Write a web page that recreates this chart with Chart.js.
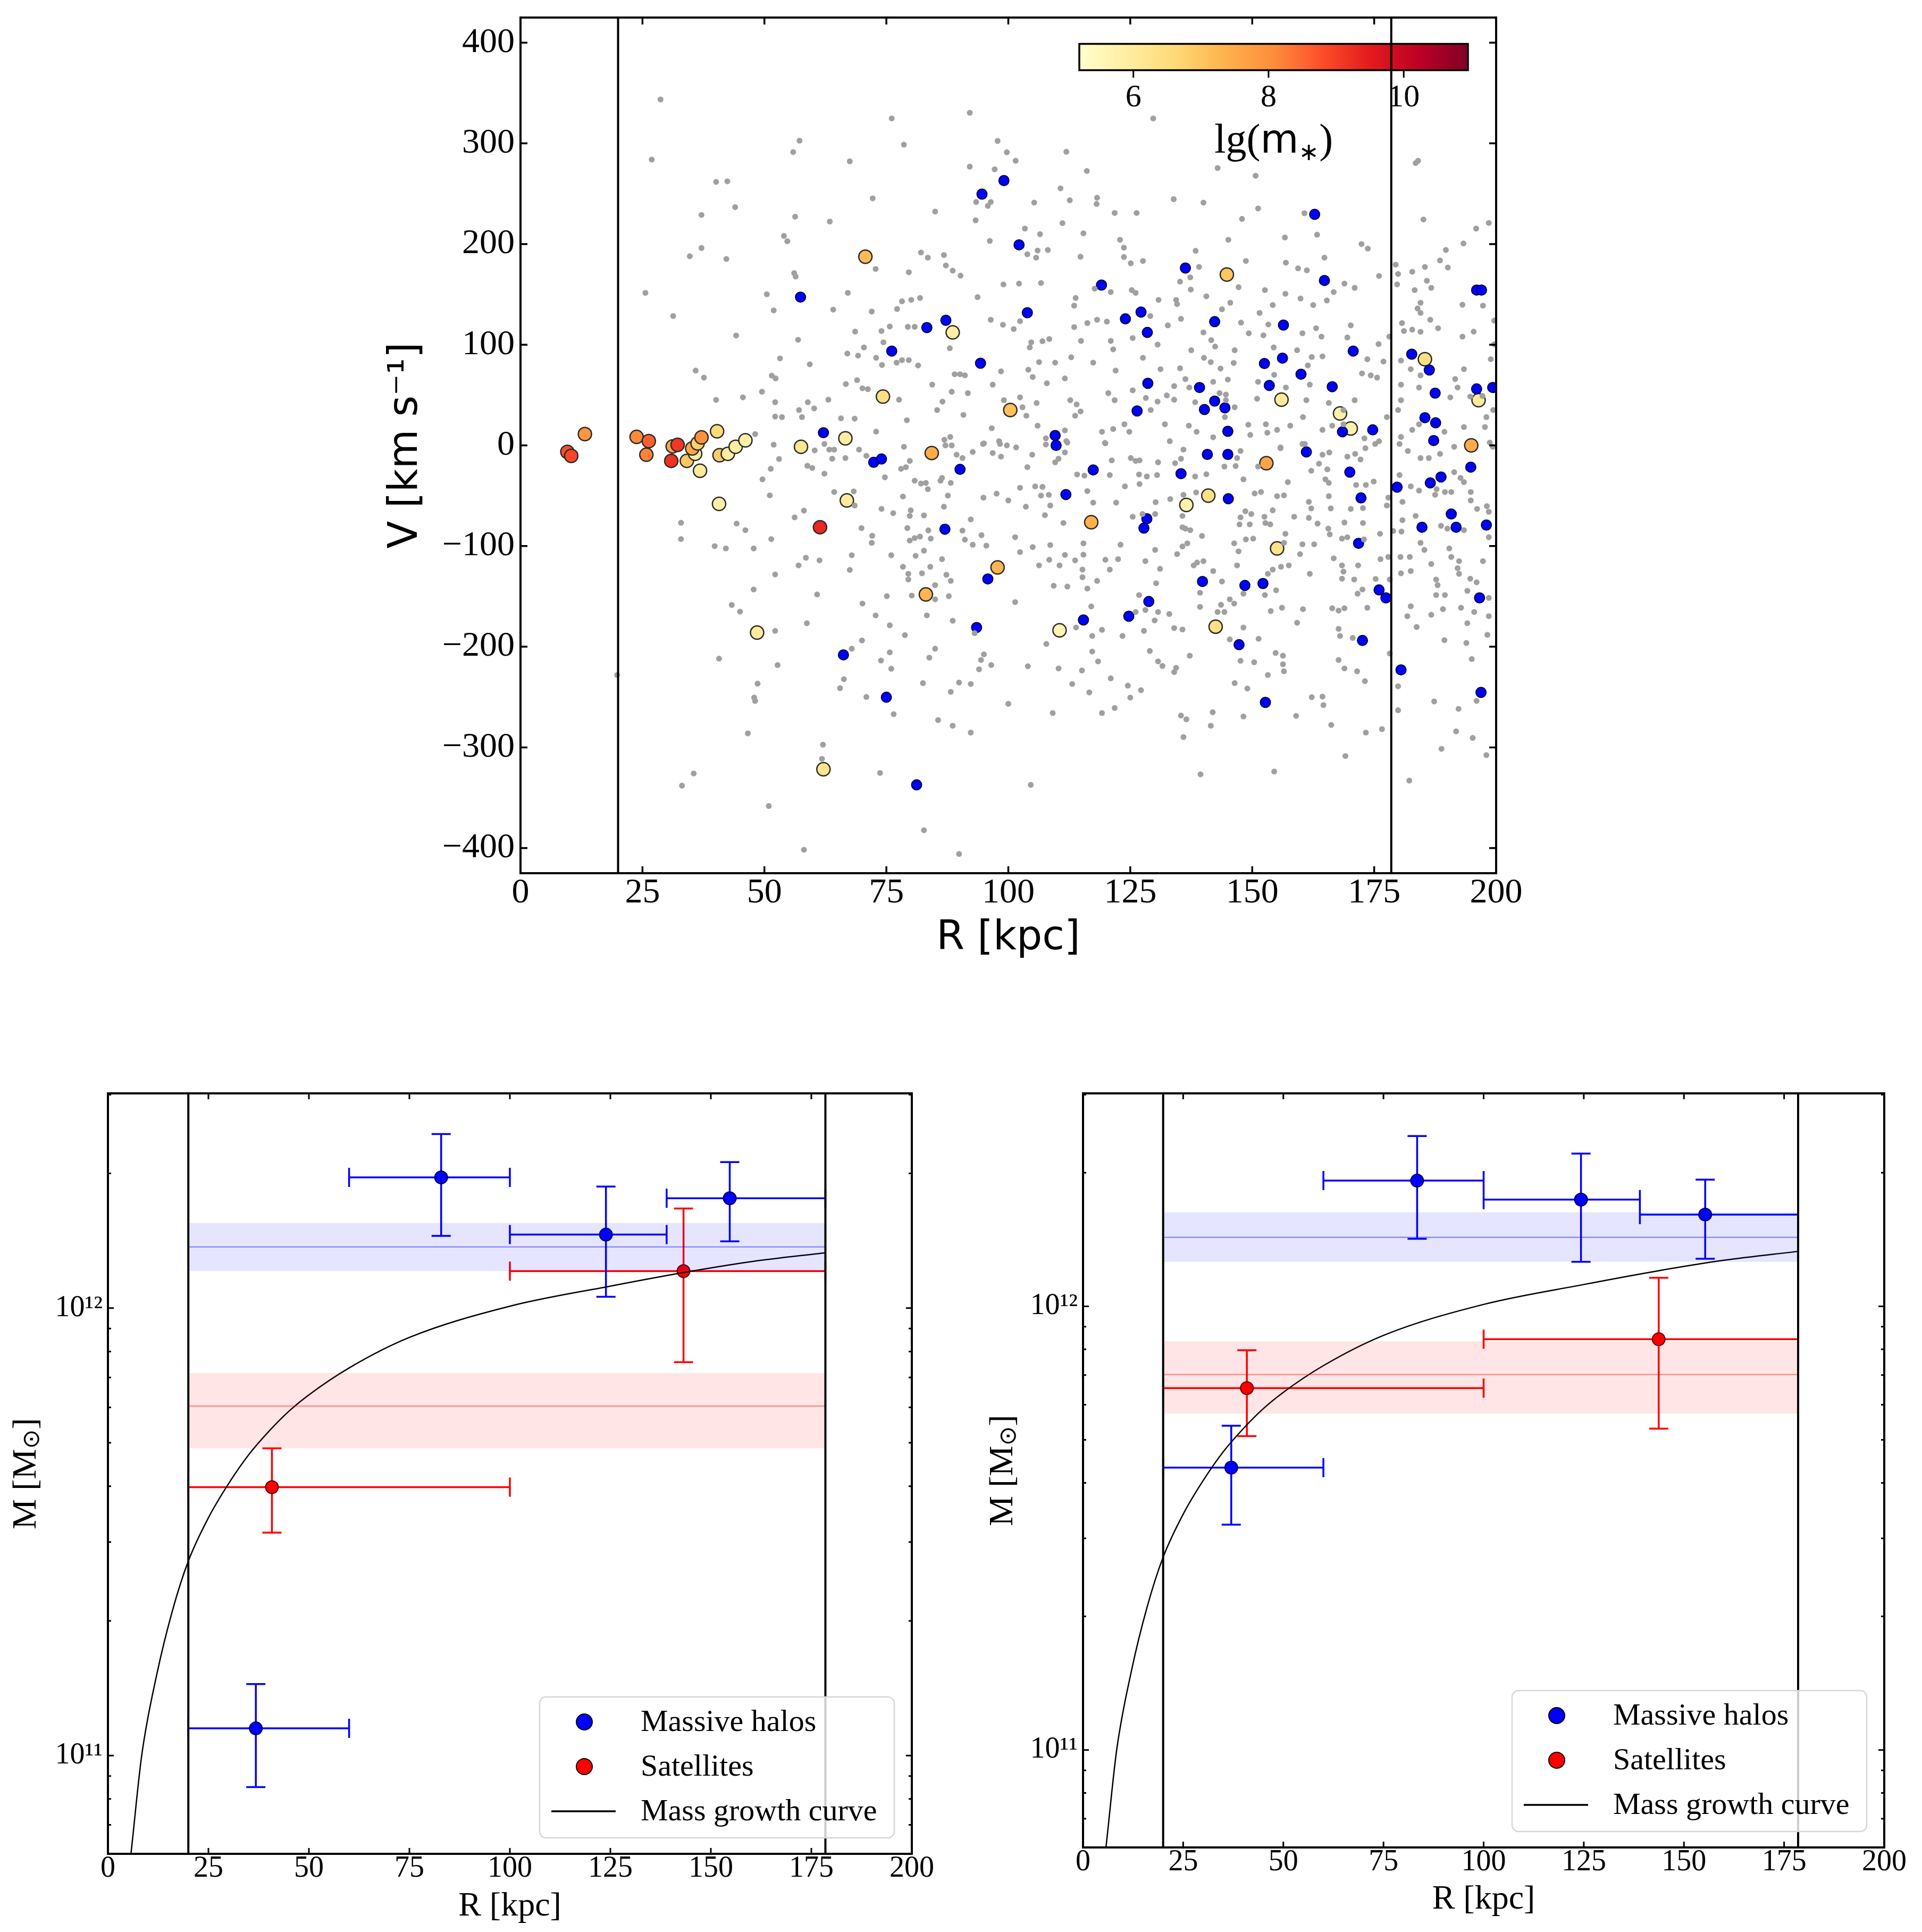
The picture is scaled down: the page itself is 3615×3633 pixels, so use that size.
<!DOCTYPE html>
<html><head><meta charset="utf-8">
<script src="https://cdn.jsdelivr.net/npm/chart.js@4.4.0/dist/chart.umd.min.js"></script>
<style>
html,body{margin:0;padding:0;background:#fff;width:3615px;height:3633px;overflow:hidden;position:relative}
canvas{position:absolute}
</style></head><body>
<canvas id="topc" width="3615" height="1850" style="left:0;top:0"></canvas>
<canvas id="blc" width="1800" height="1733" style="left:0;top:1900px"></canvas>
<canvas id="brc" width="1815" height="1733" style="left:1800px;top:1900px"></canvas>
<script>
// ---------------- DATA ----------------
const rTicks = [0,25,50,75,100,125,150,175,200];
const vTicks = [-400,-300,-200,-100,0,100,200,300,400];
const massTicks = [1e11,1e12];
const minorMantissas = [2,3,4,5,6,7,8,9];
const cbarTicks = [6,8,10];
const cbarRange = [5.2,10.95];
const rLimits = [20,178.5];

// gray field halos [R, V]
const fieldHalos = [
[28.7,343.6],[26.9,283.9],[57.2,302.7],[55.9,291.4],[76.1,324.8],[78.6,298.7],[67.5,282.2],[92.1,330.4],[97.8,302.4],[99.7,291.2],
[92.1,276.9],[97.2,274.3],[40.1,261.7],[42.4,262.3],[72.2,245.4],[44.0,236.7],[37.1,228.9],[56.3,227.2],[63.4,222.4],[85.0,232.3],
[93.3,223.6],[93.4,241.8],[96.4,241.8],[95.8,237.9],[54.0,208.1],[54.7,202.8],[37.1,196.1],[34.7,187.9],[42.2,185.1],[96.2,203.1],
[82.1,191.6],[83.5,186.5],[86.8,189.1],[72.8,175.3],[79.6,172.0],[87.2,178.7],[88.6,173.6],[90.2,168.6],[56.1,171.1],[56.4,167.7],
[99.0,159.9],[25.6,151.5],[50.5,150.1],[67.1,151.5],[93.7,147.3],[81.9,146.4],[80.1,144.5],[78.2,143.1],[77.2,135.5],[51.9,134.1],
[64.1,134.9],[72.0,133.0],[31.3,128.5],[96.4,124.8],[98.9,119.8],[68.6,113.0],[74.0,113.6],[75.7,118.1],[79.4,117.8],[80.8,117.8],
[44.2,109.1],[56.9,104.9],[74.4,102.4],[70.4,97.3],[88.0,96.5],[67.0,91.2],[69.2,89.2],[72.9,87.0],[53.2,86.4],[59.3,80.5],
[74.1,79.9],[77.1,82.2],[78.2,84.7],[79.6,84.7],[81.5,79.4],[35.9,74.3],[37.6,67.3],[89.0,70.7],[90.1,70.7],[91.1,69.6],
[98.5,73.5],[51.5,69.3],[52.3,66.5],[66.7,60.9],[69.0,64.8],[70.1,56.7],[71.2,55.8],[84.4,60.3],[96.8,60.3],[88.4,53.3],
[91.7,51.9],[40.1,45.2],[45.6,47.7],[49.5,53.3],[52.2,42.9],[58.9,42.9],[60.2,36.7],[63.1,45.4],[77.6,45.4],[57.1,35.1],
[57.7,28.1],[52.2,28.6],[53.6,28.1],[65.7,26.9],[68.5,26.6],[79.2,25.0],[86.5,43.5],[85.4,35.1],[90.8,30.3],[96.6,17.1],
[72.9,13.7],[88.1,8.4],[86.9,5.6],[98.1,4.2],[95.0,2.0],[48.1,11.2],[51.9,0.6],[78.6,-1.4],
[129.7,324.8],[101.5,282.7],[111.9,291.7],[116.1,272.6],[142.9,275.5],[150.7,267.9],[184.0,282.7],[183.5,280.5],[110.7,255.3],[105.3,241.2],
[112.6,243.5],[118.2,246.0],[118.1,239.8],[133.9,244.6],[140.0,241.2],[121.8,230.9],[126.3,230.9],[151.2,235.3],[147.9,225.0],[160.7,230.6],
[111.1,220.8],[103.4,215.4],[106.5,209.8],[115.4,210.7],[185.1,224.4],[195.9,215.4],[198.5,221.0],[156.7,206.5],[163.3,209.3],[145.1,204.2],
[122.9,204.2],[123.7,196.4],[172.4,200.0],[173.7,195.5],[193.3,200.6],[189.7,194.1],[103.9,189.9],[106.0,193.5],[108.1,194.1],[105.7,186.5],
[114.8,187.4],[123.7,187.1],[125.1,180.9],[127.6,183.2],[138.4,193.3],[164.8,186.5],[148.7,183.2],[156.9,181.5],[159.4,175.9],[161.2,173.9],
[188.5,183.7],[190.1,176.7],[185.4,177.3],[179.4,179.5],[179.9,170.3],[182.8,172.5],[139.1,177.3],[176.0,168.3],[102.2,160.7],[106.7,161.3],
[135.2,162.7],[137.3,166.9],[179.7,159.9],[168.9,160.7],[171.0,156.5],[185.8,163.5],[183.3,154.3],[186.7,156.5],[137.4,154.8],[117.7,155.7],
[121.0,152.3],[125.3,154.3],[126.1,151.5],[147.2,157.1],[152.6,154.3],[156.8,150.6],[166.7,152.3],[140.6,148.1],[159.9,145.9],[165.3,143.9],
[113.8,146.4],[113.5,138.8],[130.8,144.5],[134.4,144.5],[134.6,140.3],[145.5,141.7],[154.2,139.4],[162.5,139.4],[193.1,139.7],[197.3,138.8],
[184.5,141.7],[183.9,136.0],[143.8,135.2],[151.5,131.6],[184.5,131.6],[102.4,123.4],[101.1,115.6],[116.2,121.5],[118.2,124.8],[120.2,122.9],
[129.1,128.5],[135.4,125.7],[132.7,119.2],[113.5,117.5],[147.7,122.0],[153.3,120.1],[163.1,116.4],[170.2,119.2],[180.7,121.5],[186.5,124.8],
[188.1,116.4],[199.6,124.0],[181.1,113.6],[182.8,115.0],[184.5,112.8],[195.4,113.0],[193.1,108.0],[140.0,112.2],[149.3,111.4],[152.3,109.4],
[160.3,111.4],[164.2,108.0],[169.5,107.2],[178.1,108.0],[108.4,105.7],[104.7,102.4],[107.0,103.5],[114.9,103.8],[121.0,103.8],[125.5,106.6],
[141.6,104.6],[104.4,97.3],[121.5,95.4],[130.6,100.1],[137.5,94.5],[142.4,98.2],[146.4,94.5],[154.4,97.3],[159.2,94.5],[175.9,100.7],
[180.5,84.2],[199.6,100.4],[173.6,85.6],[176.9,83.3],[164.4,88.4],[162.2,87.8],[112.9,87.5],[127.6,87.0],[140.1,87.0],[106.3,82.7],
[109.6,82.2],[117.4,82.2],[141.5,82.7],[146.2,81.9],[104.1,75.2],[122.0,74.3],[131.2,75.7],[135.2,76.6],[143.5,76.3],[161.4,79.4],
[182.5,75.7],[193.4,75.7],[198.9,85.6],[105.0,67.9],[111.6,66.5],[107.9,61.7],[136.3,65.9],[145.0,65.4],[151.2,63.1],[154.5,70.1],
[172.5,71.5],[174.3,69.6],[175.6,67.3],[184.5,69.6],[191.6,65.9],[192.1,57.5],[194.7,48.5],[180.5,60.3],[125.5,54.7],[134.0,58.9],
[137.1,57.5],[142.0,63.1],[143.3,51.9],[144.6,50.5],[156.9,57.5],[161.8,60.3],[184.2,57.5],[190.6,47.7],[197.2,49.1],[99.1,44.9],
[102.4,47.7],[102.9,37.9],[103.7,29.5],[105.8,42.1],[112.7,44.9],[114.0,40.7],[113.7,29.5],[114.8,33.7],[120.5,51.9],[121.8,44.9],
[128.2,47.1],[132.5,49.6],[130.6,43.5],[134.0,45.4],[129.2,35.1],[138.3,42.9],[144.6,44.9],[146.4,37.9],[151.0,46.3],[165.7,42.1],
[168.7,35.1],[171.0,44.9],[160.4,28.1],[161.1,44.9],[177.6,28.1],[180.5,44.9],[179.9,35.1],[199.4,35.1],[198.0,28.1],[106.0,19.6],
[107.7,7.0],[111.9,4.2],[111.6,14.9],[119.8,2.5],[119.2,13.5],[121.5,16.3],[123.8,21.0],[124.8,13.5],[132.1,21.0],[133.1,4.2],
[137.0,19.6],[138.6,13.5],[142.0,8.1],[144.4,28.1],[149.2,20.5],[149.6,10.4],[152.8,21.0],[153.1,12.6],[155.1,15.4],[157.8,19.6],
[164.4,15.4],[166.4,19.6],[168.7,21.0],[173.0,7.0],[176.0,4.2],[180.5,8.4],[182.8,15.4],[184.2,21.0],[189.4,13.5],[193.4,18.2],
[197.7,18.2],[198.7,2.8],[99.7,0],[160.8,1.4],[155.8,-2.8],
[60.3,-5.0],[62.3,1.4],[63.3,-4.2],[64.3,-4.2],[63.9,-13.2],[66.6,-12.6],[69.4,-4.2],[70.9,-10.4],[53.0,-13.5],[51.3,-23.3],
[49.6,-33.7],[58.8,-20.2],[59.8,-22.4],[62.3,-28.1],[74.7,-31.7],[78.0,-23.3],[79.0,-21.6],[79.8,-15.4],[87.1,0],[88.4,0],
[89.4,-9.3],[90.6,-12.6],[92.7,-6.5],[94.8,1.4],[96.8,-7.6],[98.3,1.4],[98.5,-11.2],[80.8,-35.1],[82.1,-37.9],[83.1,-37.3],
[83.5,-43.5],[86.1,-35.1],[86.4,-32.3],[88.2,-37.3],[51.1,-49.6],[64.3,-46.3],[68.3,-45.7],[68.5,-59.7],[78.4,-50.8],[87.6,-49.9],
[94.9,-51.9],[97.6,-48.0],[100.0,-54.7],[32.9,-76.9],[32.9,-93.1],[44.3,-77.7],[46.1,-84.2],[56.2,-71.5],[58.1,-64.8],[74.0,-63.1],
[76.4,-67.3],[80.0,-64.5],[79.8,-70.1],[82.7,-69.6],[86.8,-60.9],[92.3,-73.5],[69.9,-82.2],[72.1,-89.8],[72.0,-96.8],[79.3,-82.2],
[79.8,-94.5],[80.8,-92.0],[81.9,-90.6],[83.6,-84.4],[84.1,-92.6],[90.6,-84.7],[91.1,-93.7],[92.7,-98.7],[94.5,-89.2],[95.5,-99.6],
[51.4,-93.1],[39.8,-100.1],[42.1,-102.4],[47.8,-102.4],[58.5,-111.6],[57.0,-119.2],[61.3,-114.2],[52.2,-128.2],[67.9,-109.1],[67.5,-123.7],
[76.0,-109.1],[78.4,-120.6],[79.5,-127.6],[79.5,-133.2],[81.0,-109.7],[82.7,-104.6],[82.3,-127.1],[84.0,-120.6],[86.4,-113.0],[87.3,-128.5],
[88.2,-134.6],[85.0,-138.8],[47.8,-143.1],[60.8,-148.1],[75.1,-149.8],[80.2,-149.2],[85.0,-152.9],[87.8,-149.8],[43.3,-158.5],[45.0,-165.2],
[70.1,-157.1],[72.8,-168.9],[83.3,-168.9],[88.6,-174.2],[58.7,-176.7],[75.7,-178.7],[78.8,-188.5],[52.2,-184.3],[93.1,-186.5],[70.0,-193.8],
[67.9,-202.0],[85.0,-202.0],[83.8,-210.9],[75.7,-205.6],[73.9,-213.7],[76.0,-221.9],[95.0,-207.6],[94.4,-213.2],[94.0,-222.4],[96.5,-218.2],
[40.7,-211.8],[52.7,-218.2],[19.8,-228.1],[66.3,-232.3],[65.5,-241.2],[48.6,-236.7],[47.9,-250.5],[48.1,-253.9],[70.9,-249.9],[76.5,-267.0],
[82.5,-236.2],[89.9,-235.6],[92.3,-237.0],[88.2,-244.9],[100.0,-256.7],[85.6,-272.9],[88.6,-278.5],[92.3,-285.3],[46.6,-286.1],[62.0,-297.3],
[61.8,-311.4],[73.7,-325.4],[35.5,-325.9],[33.1,-338.0],[50.9,-358.2],[82.7,-382.3],[58.1,-401.7],[89.9,-405.9],
[101.6,-2.0],[107.7,0.8],[112.1,2.8],[119.9,2.0],[104.9,-9.3],[109.6,-16.8],[110.3,-13.2],[111.6,-7.0],[103.9,-21.6],[121.2,-14.9],
[125.1,-12.6],[126.1,-15.4],[126.9,-14.9],[130.7,-16.8],[134.2,-17.7],[135.9,-4.2],[135.4,-13.2],[147.6,-5.6],[146.9,-12.6],[144.3,-21.0],
[146.6,-20.5],[151.2,-21.0],[155.8,-2.0],[164.4,-9.3],[165.8,-7.0],[160.3,1.4],[169.5,-11.2],[171.1,-8.4],[172.2,-14.0],[173.2,-2.8],
[175.2,1.4],[163.7,-18.2],[165.4,-23.8],[162.1,-25.2],[114.1,-28.9],[115.6,-30.0],[120.8,-29.5],[126.8,-28.9],[128.4,-30.9],[130.5,-29.5],
[138.3,-30.9],[140.6,-28.6],[148.2,-33.7],[157.3,-36.5],[165.0,-33.7],[165.7,-37.3],[171.3,-39.3],[173.3,-39.3],[174.9,-35.9],[102.4,-42.1],
[105.5,-40.7],[107.0,-41.2],[106.7,-49.9],[108.3,-49.1],[116.2,-45.4],[123.9,-40.7],[126.9,-38.4],[138.5,-46.8],[135.9,-49.1],[150.5,-47.7],
[151.8,-46.3],[155.1,-50.5],[156.5,-49.6],[165.7,-50.5],[103.6,-60.9],[108.6,-59.7],[117.4,-56.9],[122.1,-56.9],[130.2,-56.4],[133.2,-53.3],
[161.6,-56.1],[162.1,-62.6],[166.1,-62.6],[170.2,-63.1],[172.7,-62.3],[177.9,-51.9],[177.6,-59.7],[107.5,-69.3],[111.3,-77.1],[125.5,-70.9],
[127.5,-68.2],[130.1,-68.2],[135.7,-70.1],[135.7,-81.3],[136.3,-82.7],[137.3,-84.2],[147.6,-71.5],[148.6,-65.4],[149.8,-68.2],[149.5,-78.5],
[147.4,-78.5],[152.7,-77.1],[153.7,-78.5],[152.5,-70.9],[154.2,-64.5],[158.6,-70.9],[161.6,-72.0],[163.4,-77.7],[168.9,-76.6],[172.7,-77.1],
[165.6,-82.7],[165.9,-88.4],[168.4,-92.6],[169.5,-91.2],[172.9,-93.4],[176.2,-87.8],[101.4,-91.2],[105.0,-101.0],[108.6,-99.0],[115.4,-97.3],
[123.0,-98.7],[130.1,-103.8],[134.6,-108.0],[135.7,-100.4],[136.7,-97.3],[139.7,-90.0],[146.3,-97.3],[147.2,-105.2],[148.7,-93.4],[150.2,-92.6],
[156.8,-87.8],[156.5,-96.8],[160.3,-98.2],[162.7,-98.2],[159.8,-108.0],[102.4,-106.0],[106.3,-119.2],[108.4,-113.6],[110.5,-119.2],[111.6,-108.8],
[113.7,-114.2],[115.4,-108.6],[115.2,-123.4],[119.9,-113.6],[122.5,-113.0],[120.8,-123.4],[128.1,-115.0],[131.1,-122.6],[138.0,-119.2],[138.7,-116.4],
[140.0,-115.0],[142.0,-124.8],[146.9,-119.2],[153.2,-127.6],[154.2,-123.4],[155.9,-120.6],[157.5,-119.2],[161.8,-127.6],[166.7,-112.2],[168.4,-119.2],
[168.7,-125.4],[171.7,-119.2],[176.3,-113.0],[177.9,-110.8],[178.2,-133.2],[175.3,-132.7],[170.9,-133.2],[168.4,-132.4],[115.2,-131.0],[118.2,-134.6],
[130.3,-136.9],[143.8,-135.2],[109.3,-139.4],[112.1,-140.3],[116.2,-142.2],[139.3,-146.4],[148.2,-147.3],[152.6,-148.7],[154.9,-143.9],[171.6,-147.3],
[172.6,-143.1],[101.4,-155.7],[117.0,-160.0],[126.8,-148.7],[128.1,-163.5],[126.1,-165.5],[130.7,-165.5],[133.0,-167.5],[130.0,-173.9],[139.3,-160.4],
[143.6,-158.4],[145.4,-152.9],[146.3,-157.1],[142.9,-165.5],[144.3,-165.5],[153.8,-164.6],[156.1,-161.3],[160.4,-162.7],[166.4,-161.8],[167.7,-164.1],
[168.9,-161.8],[173.6,-161.3],[113.9,-180.9],[117.2,-189.3],[119.2,-183.2],[123.4,-189.3],[127.8,-184.3],[134.0,-181.5],[135.7,-182.9],[148.2,-181.0],
[159.2,-176.2],[167.7,-182.3],[168.0,-189.3],[170.6,-191.3],[107.8,-197.2],[117.2,-204.8],[118.4,-214.6],[129.0,-204.2],[130.7,-214.6],[131.6,-219.1],
[134.4,-221.0],[134.0,-225.2],[137.2,-209.0],[145.4,-192.7],[147.6,-214.0],[150.4,-215.4],[151.3,-192.1],[154.8,-206.2],[156.3,-209.0],[156.3,-217.4],
[156.5,-224.4],[167.7,-213.2],[168.9,-221.6],[171.5,-224.4],[173.1,-234.2],[178.2,-206.7],[104.0,-219.4],[110.3,-221.6],[115.1,-223.6],[113.1,-237.0],
[116.6,-245.4],[121.0,-231.4],[124.5,-238.7],[127.2,-243.2],[125.0,-250.5],[146.4,-236.2],[149.0,-241.5],[153.2,-228.1],[162.2,-250.2],[164.4,-249.6],
[164.6,-258.0],[109.1,-265.9],[119.2,-265.9],[121.8,-260.9],[135.4,-268.4],[136.5,-272.1],[141.9,-265.1],[141.5,-278.5],[148.2,-269.3],[159.0,-268.7],
[166.2,-277.7],[173.3,-285.3],[176.6,-281.9],[135.9,-289.8],[169.1,-308.6],[139.4,-326.8],[154.5,-324.0],[104.6,-337.2],
[180.2,1.4],[181.9,-5.6],[184.5,-12.6],[186.2,-12.6],[188.5,-8.4],[191.4,-1.4],[199.3,-1.4],[180.2,-29.5],[182.5,-40.7],[184.2,-44.9],
[187.5,-49.1],[187.8,-43.5],[189.5,-46.3],[191.4,-26.6],[192.7,-32.3],[193.4,-36.5],[190.8,-46.3],[194.8,-46.3],[194.8,-54.7],[196.1,-63.1],
[198.1,-60.3],[198.5,-65.9],[180.8,-56.1],[183.5,-70.1],[180.8,-74.3],[178.9,-85.0],[180.6,-85.6],[188.7,-79.9],[190.0,-82.7],[193.4,-84.2],
[198.5,-91.2],[184.5,-96.8],[185.3,-103.8],[190.4,-102.4],[190.8,-110.8],[192.4,-115.0],[180.4,-110.8],[182.3,-110.8],[186.7,-117.8],[180.5,-127.1],
[182.5,-124.8],[192.1,-122.0],[192.4,-127.6],[194.7,-132.4],[196.0,-136.0],[197.3,-115.0],[187.7,-133.2],[188.0,-138.8],[187.7,-148.7],[189.5,-148.7],
[194.1,-144.5],[198.5,-151.5],[182.5,-159.8],[181.8,-169.7],[186.7,-168.3],[189.1,-162.7],[192.8,-161.3],[195.5,-165.5],[194.1,-176.7],[198.5,-169.7],
[183.7,-180.4],[189.4,-193.5],[193.9,-196.3],[198.2,-188.2],[195.0,-212.3],[179.9,-239.3],[187.3,-254.4],[179.9,-263.1],[192.3,-261.7],[196.0,-253.9],
[191.8,-284.1],[195.2,-290.6],[188.8,-301.5],[198.0,-307.7],[182.2,-333.0]
];

// blue massive halos [R, V]
const massiveHalos = [
[57.4,147.3],[94.6,249.6],[99.1,263.1],[83.3,117.0],[87.2,124.3],[76.1,93.7],[94.3,81.6],[62.1,12.6],[102.2,199.2],
[136.3,176.2],[119.1,159.3],[164.8,163.8],[103.9,131.8],[127.2,132.4],[124.0,125.7],[128.5,112.2],[142.3,122.9],[156.4,119.5],
[196.0,154.3],[197.0,154.3],[170.7,93.7],[156.2,86.7],[152.5,81.3],[182.7,90.6],[160.0,70.7],[186.3,74.9],[128.6,61.7],[139.2,57.5],
[153.5,59.5],[166.4,58.3],[187.5,51.9],[196.0,56.1],[199.3,57.5],[142.3,44.0],[140.2,35.6],[144.4,37.3],[126.4,34.2],[109.6,9.8],
[109.8,0.0],[145.0,14.0],[174.7,15.4],[168.5,13.5],[185.4,27.5],[187.6,22.4],[187.2,4.8],[162.8,229.5],
[72.4,-16.8],[74.0,-13.5],[90.1,-23.8],[87.0,-83.3],[95.8,-132.7],[93.5,-180.9],[66.2,-208.1],[75.0,-250.2],[81.2,-337.2],
[117.4,-24.4],[111.8,-48.8],[140.8,-9.0],[145.0,-9.0],[135.4,-28.1],[145.1,-53.0],[161.1,-6.5],[170.0,-26.6],[172.3,-52.2],
[128.4,-72.9],[127.8,-82.2],[171.8,-97.3],[139.8,-135.2],[148.5,-139.1],[152.2,-137.2],[128.8,-155.1],[124.7,-169.7],[115.4,-173.4],
[147.3,-198.0],[172.6,-193.8],[176.0,-143.6],[177.4,-151.5],[152.7,-255.3],[179.7,-41.5],[186.5,-37.3],[188.7,-31.4],[194.8,-21.6],
[190.8,-68.2],[184.8,-81.3],[191.8,-81.3],[198.0,-79.1],[196.6,-151.5],[180.5,-223.0],[196.9,-245.4]
];

// colour-coded satellites [R, V, lg(m*)]
const satellites = [
[9.6,-6.5,8.8],[10.4,-10.4,8.9],[13.2,11.2,7.9],[23.8,8.4,8.1],[25.8,-9.3,8.2],[26.3,4.2,8.6],[30.9,-15.4,9.2],[31.2,-1.0,7.6],
[32.2,0.5,9.1],[34.1,-15.4,7.0],[35.8,-8.4,6.0],[35.2,-3.0,7.6],[36.3,2.0,6.8],[36.8,-25.2,6.0],[37.1,7.9,8.0],[40.3,14.0,6.6],
[40.8,-9.8,6.9],[42.5,-8.4,5.9],[44.1,-1.4,5.9],[46.1,5.0,5.8],[40.7,-58.1,5.8],[48.5,-186.0,6.0],[57.5,-1.4,6.2],[61.4,-81.3,9.3],
[62.1,-321.7,6.2],[66.6,7.0,5.9],[66.9,-54.7,6.0],[70.7,187.4,7.2],[74.3,48.5,6.4],[84.3,-7.6,7.5],[83.1,-148.1,7.3],[88.6,112.2,5.9],
[97.8,-121.2,7.3],[100.4,35.1,7.1],[110.5,-183.7,5.6],[117.0,-76.3,7.4],[136.5,-59.2,5.7],[141.0,-49.9,6.4],[142.5,-180.1,6.4],[144.8,169.7,7.0],
[152.9,-17.7,7.6],[155.1,-102.4,6.3],[156.0,45.4,6.0],[168.0,31.7,5.8],[170.2,16.8,5.7],[185.4,85.6,6.4],[194.9,0.0,7.5],[196.4,44.9,6.0]
];

// mass growth curve (R [kpc], M [Msun])
const growthR = [5.0,5.7,8.4,12.1,16,20,25,30,35,40,45,50,60,75,100,125,143,160,178.5];
const growthM = [5.3e10,6.0e10,1.0e11,1.51e11,2.1e11,2.72e11,3.4e11,4.05e11,4.7e11,5.3e11,5.88e11,6.4e11,7.35e11,8.6e11,1.01e12,1.12e12,1.2e12,1.27e12,1.33e12];

// lower-left panel
const haloR_A   = [36.8,82.9,123.9,154.7];
const haloRlo_A = [20,60,100,139];
const haloRhi_A = [60,100,139,178.5];
const haloM_A   = [1.15e11,1.96e12,1.46e12,1.76e12];
const haloMlo_A = [8.5e10,1.45e12,1.06e12,1.41e12];
const haloMhi_A = [1.445e11,2.45e12,1.87e12,2.12e12];
const satR_A    = [40.8,143.2];
const satRlo_A  = [20,100];
const satRhi_A  = [100,178.5];
const satM_A    = [3.98e11,1.21e12];
const satMlo_A  = [3.15e11,7.57e11];
const satMhi_A  = [4.86e11,1.67e12];
const haloBand_A = [1.21e12,1.37e12,1.55e12];
const satBand_A  = [4.86e11,6.04e11,7.16e11];

// lower-right panel
const haloR_B   = [37.0,83.4,124.3,155.3];
const haloRlo_B = [20,60,100,139];
const haloRhi_B = [60,100,139,178.5];
const haloM_B   = [4.33e11,1.92e12,1.74e12,1.61e12];
const haloMlo_B = [3.22e11,1.42e12,1.26e12,1.28e12];
const haloMhi_B = [5.38e11,2.42e12,2.21e12,1.93e12];
const satR_B    = [40.9,143.7];
const satRlo_B  = [20,100];
const satRhi_B  = [100,178.5];
const satM_B    = [6.54e11,8.43e11];
const satMlo_B  = [5.1e11,5.3e11];
const satMhi_B  = [7.96e11,1.16e12];
const haloBand_B = [1.26e12,1.43e12,1.63e12];
const satBand_B  = [5.73e11,7.02e11,8.34e11];

const massRange = [6.03e10,3.02e12];
const legendLabels = ['Massive halos','Satellites','Mass growth curve'];

// ---------------- HELPERS ----------------
const SERIF = '"Liberation Serif","DejaVu Serif",serif';
const SANS = '"DejaVu Sans",sans-serif';
const YlOrRd = ['#ffffcc','#ffeda0','#fed976','#feb24c','#fd8d3c','#fc4e2a','#e31a1c','#bd0026','#800026'];
function hex2rgb(h){return [parseInt(h.substr(1,2),16),parseInt(h.substr(3,2),16),parseInt(h.substr(5,2),16)];}
function cmap(t){
  t=Math.max(0,Math.min(1,t)); const n=YlOrRd.length-1;
  const i=Math.min(n-1,Math.floor(t*n)); const f=t*n-i;
  const a=hex2rgb(YlOrRd[i]), b=hex2rgb(YlOrRd[i+1]);
  return 'rgb('+[0,1,2].map(k=>Math.round(a[k]+(b[k]-a[k])*f)).join(',')+')';
}
function fixY(w){return s=>{s.width=w;s.paddingTop=s.paddingBottom=s.paddingLeft=s.paddingRight=0;};}
function fixX(h){return s=>{s.height=h;s.paddingTop=s.paddingBottom=s.paddingLeft=s.paddingRight=0;};}
function setTicks(arr){return s=>{s.ticks=arr.map(v=>({value:v}));};}
const signed = v => v<0 ? '\u2212'+Math.abs(v) : String(v);
const supDigits = {'0':'\u2070','1':'\u00B9','2':'\u00B2','3':'\u00B3','4':'\u2074','5':'\u2075','6':'\u2076','7':'\u2077','8':'\u2078','9':'\u2079'};
const powLabel = v => '10'+String(Math.round(Math.log10(v))).split('').map(c=>supDigits[c]).join('');

// ---------------- PLUGINS ----------------
const framePlugin = {
  id:'frame',
  afterDraw(chart,args,o){
    const {ctx,chartArea:a,scales:{x,y}}=chart;
    ctx.save(); ctx.strokeStyle='#000'; ctx.lineCap='butt';
    ctx.lineWidth=o.tickWidth; ctx.beginPath();
    x.ticks.forEach(t=>{const p=x.getPixelForValue(t.value);
      ctx.moveTo(p,a.bottom);ctx.lineTo(p,a.bottom-o.major);ctx.moveTo(p,a.top);ctx.lineTo(p,a.top+o.major);});
    y.ticks.forEach(t=>{const p=y.getPixelForValue(t.value);
      ctx.moveTo(a.left,p);ctx.lineTo(a.left+o.major,p);ctx.moveTo(a.right,p);ctx.lineTo(a.right-o.major,p);});
    (o.minorY||[]).forEach(v=>{const p=y.getPixelForValue(v);
      ctx.moveTo(a.left,p);ctx.lineTo(a.left+o.minor,p);ctx.moveTo(a.right,p);ctx.lineTo(a.right-o.minor,p);});
    ctx.stroke();
    ctx.lineWidth=o.frameWidth; ctx.strokeRect(a.left,a.top,a.right-a.left,a.bottom-a.top);
    ctx.restore();
  }
};
const vlinePlugin = {
  id:'vlines',
  afterDatasetsDraw(chart,args,o){
    const {ctx,chartArea:a,scales:{x}}=chart;
    ctx.save(); ctx.strokeStyle='#000'; ctx.lineWidth=o.width; ctx.beginPath();
    o.values.forEach(v=>{const p=x.getPixelForValue(v);ctx.moveTo(p,a.top);ctx.lineTo(p,a.bottom);});
    ctx.stroke(); ctx.restore();
  }
};
const colorbarPlugin = {
  id:'cbar',
  afterDatasetsDraw(chart,args,o){
    if(!o.show) return;
    const {ctx,chartArea:a}=chart;
    const w=731,h=49.5, L=a.right-53-w, T=a.top+49.5;
    const g=ctx.createLinearGradient(L,0,L+w,0);
    for(let i=0;i<=40;i++){g.addColorStop(i/40,cmap(i/40));}
    ctx.save(); ctx.fillStyle=g; ctx.fillRect(L,T,w,h);
    ctx.strokeStyle='#000'; ctx.lineWidth=3.5; ctx.strokeRect(L,T,w,h);
    ctx.lineWidth=3; ctx.beginPath();
    ctx.font='60px '+SERIF; ctx.fillStyle='#000'; ctx.textAlign='center'; ctx.textBaseline='middle';
    cbarTicks.forEach(v=>{const px=L+(v-cbarRange[0])/(cbarRange[1]-cbarRange[0])*w;
      ctx.moveTo(px,T+h);ctx.lineTo(px,T+h+14);ctx.fillText(String(v),px,T+h+52);});
    ctx.stroke();
    const cx=L+w/2, cy=T+h+129;
    const parts=[['lg(','78px '+SERIF,0],['m','74px '+SANS,0],['\u2217','46px '+SANS,14],[')','78px '+SERIF,0]];
    let tw=0; parts.forEach(p=>{ctx.font=p[1];tw+=ctx.measureText(p[0]).width;});
    let xx=cx-tw/2; ctx.textAlign='left'; ctx.textBaseline='alphabetic';
    parts.forEach(p=>{ctx.font=p[1];ctx.fillText(p[0],xx,cy+26+p[2]);xx+=ctx.measureText(p[0]).width;});
    ctx.restore();
  }
};
const errorBarPlugin = {
  id:'errbars',
  beforeDatasetDraw(chart,args){
    const ds=chart.data.datasets[args.index];
    if(!ds.errorBars) return;
    const {ctx,scales:{x,y}}=chart; const e=ds.errorBars; const cap=18;
    ctx.save(); ctx.strokeStyle=ds.errColor; ctx.lineWidth=3.5; ctx.beginPath();
    ds.data.forEach((p,i)=>{
      const px=x.getPixelForValue(p.x), py=y.getPixelForValue(p.y);
      const x0=x.getPixelForValue(e.xlo[i]), x1=x.getPixelForValue(e.xhi[i]);
      const y0=y.getPixelForValue(e.ylo[i]), y1=y.getPixelForValue(e.yhi[i]);
      ctx.moveTo(x0,py);ctx.lineTo(x1,py);ctx.moveTo(px,y0);ctx.lineTo(px,y1);
      ctx.moveTo(x0,py-cap);ctx.lineTo(x0,py+cap);ctx.moveTo(x1,py-cap);ctx.lineTo(x1,py+cap);
      ctx.moveTo(px-cap,y0);ctx.lineTo(px+cap,y0);ctx.moveTo(px-cap,y1);ctx.lineTo(px+cap,y1);
    });
    ctx.stroke(); ctx.restore();
  }
};
const boxLegendPlugin = {
  id:'boxLegend',
  afterDraw(chart,args,o){
    if(!o.show) return;
    const {ctx,chartArea:a}=chart;
    const W=667,H=265,R=a.right-33,B=a.bottom-30,L=R-W,T=B-H;
    ctx.save();
    ctx.beginPath(); if(ctx.roundRect){ctx.roundRect(L,T,W,H,12);}else{ctx.rect(L,T,W,H);}
    ctx.fillStyle='rgba(255,255,255,0.8)'; ctx.fill();
    ctx.strokeStyle='#d6d6d6'; ctx.lineWidth=2.5; ctx.stroke();
    const rows=[T+47,T+131,T+215];
    const cols=['#0000ff','#ff0000'];
    [0,1].forEach(i=>{ctx.beginPath();ctx.arc(L+84,rows[i],15,0,Math.PI*2);ctx.fillStyle=cols[i];ctx.fill();
      ctx.lineWidth=2;ctx.strokeStyle='#000';ctx.stroke();});
    ctx.beginPath();ctx.moveTo(L+22,rows[2]);ctx.lineTo(L+143,rows[2]);ctx.lineWidth=3.5;ctx.strokeStyle='#000';ctx.stroke();
    ctx.fillStyle='#000'; ctx.font='58px '+SERIF; ctx.textAlign='left'; ctx.textBaseline='middle';
    legendLabels.forEach((t,i)=>ctx.fillText(t,L+190,rows[i]+2));
    ctx.restore();
  }
};
// rotated y title "M [M_sun]" with subscript
const massTitlePlugin = {
  id:'massTitle',
  afterDraw(chart,args,o){
    if(!o.show) return;
    const {ctx,chartArea:a}=chart;
    const cx=o.x, cy=(a.top+a.bottom)/2;
    const parts=[['M [M','64px '+SERIF,0],['\u2299','44px '+SANS,12],[']','64px '+SERIF,0]];
    ctx.save(); ctx.translate(cx,cy); ctx.rotate(-Math.PI/2);
    ctx.fillStyle='#000'; ctx.textAlign='left'; ctx.textBaseline='middle';
    let tw=0; parts.forEach(p=>{ctx.font=p[1];tw+=ctx.measureText(p[0]).width;});
    let xx=-tw/2;
    parts.forEach(p=>{ctx.font=p[1];ctx.fillText(p[0],xx,p[2]);xx+=ctx.measureText(p[0]).width;});
    ctx.restore();
  }
};
const PLUGINS=[colorbarPlugin,vlinePlugin,errorBarPlugin,framePlugin,boxLegendPlugin,massTitlePlugin];

// ---------------- TOP PANEL ----------------
const cbMin=cbarRange[0], cbMax=cbarRange[1];
new Chart(document.getElementById('topc'),{
  type:'scatter',
  data:{datasets:[
    {label:'field',data:fieldHalos.map(p=>({x:p[0],y:p[1]})),pointRadius:5.5,pointBackgroundColor:'#a0a0a0',pointBorderWidth:0,clip:0},
    {label:'massive',data:massiveHalos.map(p=>({x:p[0],y:p[1]})),pointRadius:9.5,pointBackgroundColor:'#0000ff',pointBorderColor:'#00003c',pointBorderWidth:2,clip:0},
    {label:'satellites',data:satellites.map(p=>({x:p[0],y:p[1]})),pointRadius:12.5,
      pointBackgroundColor:satellites.map(p=>cmap((p[2]-cbMin)/(cbMax-cbMin))),pointBorderColor:'#2a2a2a',pointBorderWidth:2.5,clip:0}
  ]},
  options:{
    responsive:false,animation:false,devicePixelRatio:1,events:[],
    layout:{padding:{left:719,top:33,right:801,bottom:38}},
    plugins:{legend:{display:false},tooltip:{enabled:false},
      frame:{tickWidth:3.5,major:13,minor:7,frameWidth:4},
      vlines:{values:rLimits,width:4},cbar:{show:true},boxLegend:{show:false},massTitle:{show:false}},
    scales:{
      x:{type:'linear',min:0,max:200,afterBuildTicks:setTicks(rTicks),afterFit:fixX(170),
        grid:{display:false,drawTicks:false},border:{display:false},
        ticks:{padding:0,color:'#000',autoSkip:false,maxRotation:0,font:{family:SERIF,size:66,lineHeight:1.15}},
        title:{display:true,text:'R [kpc]',color:'#000',font:{family:SANS,size:76,lineHeight:1.2},padding:{top:0,bottom:1}}},
      y:{type:'linear',min:-425,max:425,afterBuildTicks:setTicks(vTicks),afterFit:fixY(260),
        grid:{display:false,drawTicks:false},border:{display:false},
        ticks:{padding:11,color:'#000',autoSkip:false,callback:v=>signed(v),font:{family:SERIF,size:66,lineHeight:1.15}},
        title:{display:true,text:'V [km s\u207B\u00B9]',color:'#000',font:{family:SANS,size:76,lineHeight:1.2},padding:{top:0,bottom:0}}}
    }
  },
  plugins:PLUGINS
});

// ---------------- MASS PANELS ----------------
function minorTicks(){
  const out=[];
  for(let e=10;e<=12;e++){minorMantissas.forEach(m=>{const v=m*Math.pow(10,e);if(v>massRange[0]&&v<massRange[1])out.push(v);});}
  return out;
}
function band(vals,rgb){
  const seg=v=>[{x:rLimits[0],y:v},{x:rLimits[1],y:v}];
  return [
    {type:'line',data:seg(vals[0]),borderWidth:0,pointRadius:0,fill:false},
    {type:'line',data:seg(vals[2]),borderWidth:0,pointRadius:0,fill:'-1',backgroundColor:'rgba('+rgb+',0.1)'},
    {type:'line',data:seg(vals[1]),borderWidth:2.5,borderColor:'rgba('+rgb+',0.38)',pointRadius:0,fill:false}
  ];
}
function massChart(id,pad,yW,titleX,xTitlePad,d){
  const pts=(r,m)=>r.map((v,i)=>({x:v,y:m[i]}));
  new Chart(document.getElementById(id),{
    type:'scatter',
    data:{datasets:[
      ...band(d.haloBand,'0,0,255'),
      ...band(d.satBand,'255,0,0'),
      {type:'line',label:legendLabels[2],data:pts(growthR,growthM),borderColor:'#000',borderWidth:2.5,pointRadius:0,
        cubicInterpolationMode:'monotone',fill:false,clip:0},
      {label:legendLabels[0],data:pts(d.haloR,d.haloM),pointRadius:12,pointBackgroundColor:'#0000ff',pointBorderColor:'#00004a',pointBorderWidth:2,
        errColor:'#0000ff',errorBars:{xlo:d.haloRlo,xhi:d.haloRhi,ylo:d.haloMlo,yhi:d.haloMhi}},
      {label:legendLabels[1],data:pts(d.satR,d.satM),pointRadius:12,pointBackgroundColor:'#ff0000',pointBorderColor:'#550000',pointBorderWidth:2,
        errColor:'#ff0000',errorBars:{xlo:d.satRlo,xhi:d.satRhi,ylo:d.satMlo,yhi:d.satMhi}}
    ]},
    options:{
      responsive:false,animation:false,devicePixelRatio:1,events:[],
      layout:{padding:pad},
      plugins:{legend:{display:false},tooltip:{enabled:false},
        frame:{tickWidth:3,major:11,minor:6,frameWidth:4,minorY:minorTicks()},
        vlines:{values:rLimits,width:4},cbar:{show:false},boxLegend:{show:true},massTitle:{show:true,x:titleX}},
      scales:{
        x:{type:'linear',min:0,max:200,afterBuildTicks:setTicks(rTicks),afterFit:fixX(140),
          grid:{display:false,drawTicks:false},border:{display:false},
          ticks:{padding:0,color:'#000',autoSkip:false,maxRotation:0,font:{family:SERIF,size:56,lineHeight:1.0}},
          title:{display:true,text:'R [kpc]',color:'#000',font:{family:SERIF,size:64,lineHeight:1.2},padding:{top:0,bottom:xTitlePad}}},
        y:{type:'logarithmic',min:massRange[0],max:massRange[1],afterBuildTicks:setTicks(massTicks),afterFit:fixY(yW),
          grid:{display:false,drawTicks:false},border:{display:false},
          ticks:{padding:10,color:'#000',autoSkip:false,callback:v=>powLabel(v),font:{family:SERIF,size:56,lineHeight:1.0}},
          title:{display:false}}
      }
    },
    plugins:PLUGINS
  });
}
massChart('blc',{left:10,top:156,right:85,bottom:7},193,50,2,{
  haloR:haloR_A,haloRlo:haloRlo_A,haloRhi:haloRhi_A,haloM:haloM_A,haloMlo:haloMlo_A,haloMhi:haloMhi_A,
  satR:satR_A,satRlo:satRlo_A,satRhi:satRhi_A,satM:satM_A,satMlo:satMlo_A,satMhi:satMhi_A,
  haloBand:haloBand_A,satBand:satBand_A});
massChart('brc',{left:37,top:156,right:71,bottom:19},200,87,3,{
  haloR:haloR_B,haloRlo:haloRlo_B,haloRhi:haloRhi_B,haloM:haloM_B,haloMlo:haloMlo_B,haloMhi:haloMhi_B,
  satR:satR_B,satRlo:satRlo_B,satRhi:satRhi_B,satM:satM_B,satMlo:satMlo_B,satMhi:satMhi_B,
  haloBand:haloBand_B,satBand:satBand_B});
</script>
</body></html>
